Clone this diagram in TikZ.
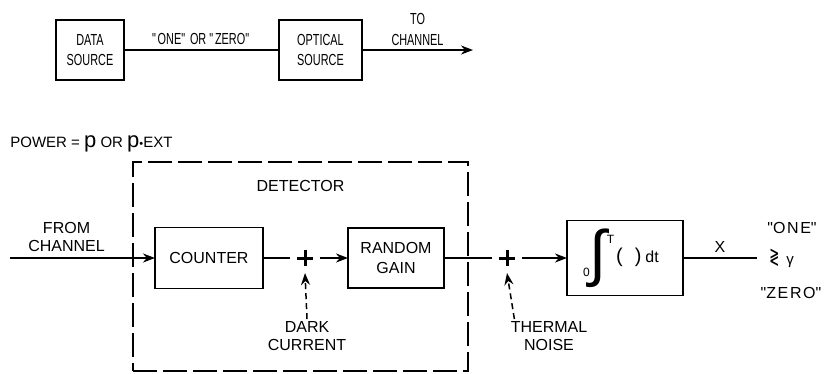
\documentclass[tikz,border=0pt]{standalone}
\usepackage{amsmath,amssymb}
\usepackage{graphicx}
\usepackage{fontspec}
\setmainfont{Liberation Sans}
\newfontfamily\narrowfont[FakeStretch=0.68]{Liberation Sans}
\newfontfamily\symfont{DejaVu Sans}
\usetikzlibrary{arrows.meta, positioning}

\begin{document}
\begin{tikzpicture}[x=1pt, y=-1pt, node distance=30pt and 30pt, >={Stealth[length=12pt,width=9pt]}, line width=2.8pt]
    \tikzset{
        block/.style={rectangle, draw, line width=1.8pt, minimum height=60pt, align=center, inner sep=2pt, outer sep=0pt, font=\fontsize{16}{20}\selectfont},
        topblock/.style={block, font=\narrowfont\fontsize{16}{20}\selectfont},
        summer/.style={circle, minimum size=30pt, inner sep=0pt, outer sep=0pt, path picture={\draw[line width=3pt] (path picture bounding box.center) +(-8,0) -- +(8,0) +(0,-8) -- +(0,8);}},
        txt/.style={font=\fontsize{16}{18}\selectfont, align=center, inner sep=1pt},
        toptxt/.style={txt, font=\narrowfont\fontsize{16}{21}\selectfont},
        quote/.style={txt, font=\fontsize{16}{18}\selectfont\addfontfeature{LetterSpace=10}},
        line/.style={draw},
        noise/.style={draw, ->, line width=1.5pt, dash pattern=on 6pt off 4pt},
        detbox/.style={draw, line width=1.6pt, dash pattern=on 24pt off 6pt, minimum width=335pt, minimum height=209pt}
    }
    \useasboundingbox (0,0) rectangle (824,373);

    % transmitter
    \node (Data) [topblock, minimum width=68pt] at (90,50) {DATA\\SOURCE};
    \node (Optical) [topblock, minimum width=83pt, right=155pt of Data] {OPTICAL\\SOURCE};
    \coordinate [right=111pt of Optical] (ToChannel);
    \path [line] (Data) -- node [toptxt, above=3pt] (Bit) {\textquotedbl ONE\textquotedbl{} OR \textquotedbl ZERO\textquotedbl} (Optical);
    \path [line, ->] (Optical) -- node [toptxt, above=2pt] (ToLabel) {TO\\CHANNEL} (ToChannel);

    \node (Power) [txt, font=\fontsize{15}{18}\selectfont, anchor=base west] at (8,147) {POWER = {\fontsize{22}{22}\selectfont p} OR {\fontsize{22}{22}\selectfont p}{\fontsize{11}{11}\selectfont\textbullet}EXT};

    % receiver
    \node (DetBox) [detbox] at (300.5,266.5) {};
    \node (DetLabel) [txt, below=17pt of DetBox.north] {DETECTOR};

    \coordinate (FromChannel) at (10,258);
    \node (Counter) [block, minimum width=108pt, minimum height=61pt] at (209,258) {COUNTER};
    \node (Sum1) [summer, right=27pt of Counter] {};
    \node (Gain) [block, minimum width=96pt, right=28pt of Sum1] {RANDOM\\GAIN};
    \node (Sum2) [summer, right=48pt of Gain] {};
    \node (Integ) [block, minimum width=116pt, minimum height=75pt, right=45pt of Sum2] {\raisebox{-14pt}{\fontsize{12}{12}\selectfont 0}\raisebox{-12pt}{\fontsize{62}{62}\selectfont ∫}\raisebox{19pt}{\fontsize{12}{12}\selectfont T}\hspace{2pt}{\fontsize{20}{20}\selectfont(\hspace{12pt})}\hspace{4pt}dt\hspace{8pt}};
    \coordinate [right=74pt of Integ] (Xout);

    \node (Decide) [txt, right=10pt of Xout] {\scalebox{0.75}[1.4]{\symfont ≷}\hspace{7pt}{\fontsize{15}{15}\selectfont γ}};
    \node (One) [quote] at (792,228) {\textquotedbl ONE\textquotedbl};
    \node (Zero) [quote] at (791,293) {\textquotedbl ZERO\textquotedbl};

    \node (Dark) [txt] at (307,336) {DARK\\CURRENT};
    \node (Thermal) [txt] at (549,336) {THERMAL\\NOISE};
    \coordinate (ThermalIn) at ([xshift=6pt]Thermal.north west);

    \path [line, ->] (FromChannel) -- node [txt, above=4pt, pos=0.39] (FromLabel) {FROM\\CHANNEL} (Counter);
    \path [line] (Counter) -- (Sum1);
    \path [line, ->] (Sum1) -- (Gain);
    \path [line] (Gain) -- (Sum2);
    \path [line, ->] (Sum2) -- (Integ);
    \path [line] (Integ) -- node [txt, above=3pt] (Xlab) {X} (Xout);
    \path [noise] (Dark.north) -- (Sum1.south);
    \path [noise] (ThermalIn) -- (Sum2.south);

\end{tikzpicture}
\end{document}
